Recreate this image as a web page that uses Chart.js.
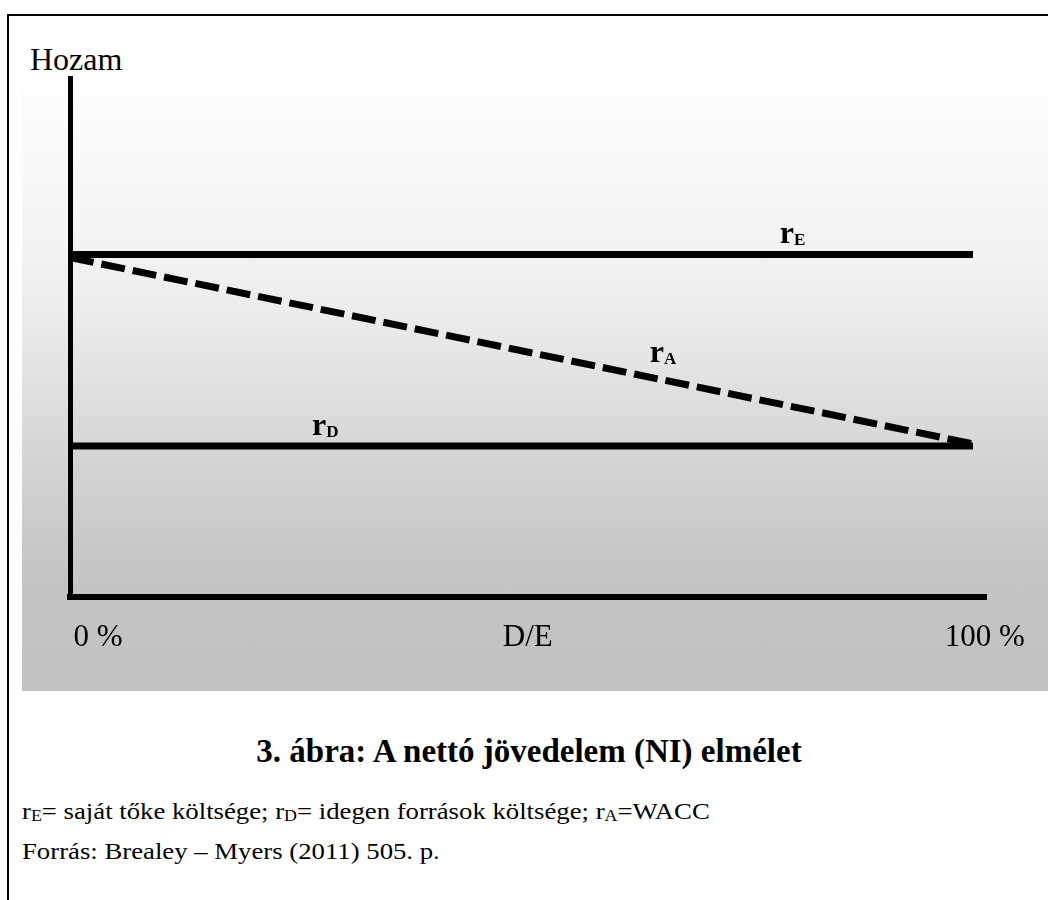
<!DOCTYPE html>
<html>
<head>
<meta charset="utf-8">
<script src="https://cdn.jsdelivr.net/npm/chart.js@4.4.1/dist/chart.umd.min.js"></script>
<style>
  html, body { margin: 0; padding: 0; background: #fff; width: 1048px; height: 900px; overflow: hidden; }
  body { position: relative; font-family: "Liberation Serif", "Times New Roman", serif; color: #000; }
  #frame { position: absolute; left: 7px; top: 14px; width: 1100px; height: 900px; border-left: 2px solid #000; border-top: 2px solid #000; }
  #bg { position: absolute; left: 22px; top: 20px; width: 1026px; height: 671px;
        background: linear-gradient(to bottom, #ffffff 0px, #ffffff 50px, #fdfdfd 70px, #f2f2f2 240px, #ebebeb 300px, #d6d6d6 430px, #c7c7c7 530px, #c3c3c3 590px, #c2c2c2 671px); }
  #chartWrap { position: absolute; left: 0; top: 0; width: 1048px; height: 700px; }
  .txt { position: absolute; white-space: nowrap; line-height: 1; }
  #hozam { left: 30px; top: 43px; font-size: 32px; }
  #title { left: 22px; width: 1014px; text-align: center; top: 735px; font-size: 33px; font-weight: bold; }
  .cap { left: 22px; font-size: 24px; transform: scaleX(1.114); transform-origin: 0 0; }
  #cap1 { top: 799px; }
  #cap2 { top: 839px; }
  .cap sub { font-size: 16px; vertical-align: -2px; line-height: 1; }
</style>
</head>
<body>
<div id="frame"></div>
<div id="bg"></div>
<div class="txt" id="hozam">Hozam</div>
<div id="chartWrap"><canvas id="c" width="1048" height="700"></canvas></div>
<div class="txt" id="title">3. ábra: A nettó jövedelem (NI) elmélet</div>
<div class="txt cap" id="cap1">r<sub>E</sub>= saját tőke költsége; r<sub>D</sub>= idegen források költsége; r<sub>A</sub>=WACC</div>
<div class="txt cap" id="cap2">Forrás: Brealey – Myers (2011) 505. p.</div>
<script>
// ---- data ----
const debtRatio = [0, 100];            // D/E (%)
const rE = [66.0, 66.0];               // cost of equity
const rA = [65.4, 29.5];               // WACC
const rD = [29.1, 29.1];               // cost of debt
const xTickValues = [3.1, 50.7, 101.3];
const xTickLabels = ['0 %', 'D/E', '100 %'];
const seriesLabelSub = ['E', 'A', 'D'];
const seriesLabelX = [78.6, 64.2, 26.8];
const seriesLabelY = [68.2, 45.3, 31.2];

const toPts = (ys) => debtRatio.map((x, i) => ({x: x, y: ys[i]}));

const seriesLabels = {
  id: 'seriesLabels',
  afterDatasetsDraw(chart) {
    const ctx = chart.ctx;
    const xs = chart.scales.x, ys = chart.scales.y;
    ctx.save();
    ctx.fillStyle = '#000';
    ctx.textBaseline = 'alphabetic';
    ctx.textAlign = 'left';
    for (let i = 0; i < seriesLabelSub.length; i++) {
      const px = xs.getPixelForValue(seriesLabelX[i]);
      const py = ys.getPixelForValue(seriesLabelY[i]);
      ctx.font = 'bold 32px "Liberation Serif", serif';
      ctx.fillText('r', px, py);
      const w = ctx.measureText('r').width;
      ctx.font = 'bold 17px "Liberation Serif", serif';
      ctx.fillText(seriesLabelSub[i], px + w, py + 2);
    }
    ctx.restore();
  }
};

new Chart(document.getElementById('c'), {
  type: 'line',
  data: {
    datasets: [
      { label: 'rE', data: toPts(rE), borderColor: '#000', borderWidth: 7, pointRadius: 0, borderCapStyle: 'butt', clip: false },
      { label: 'rA', data: toPts(rA), borderColor: '#000', borderWidth: 7, borderDash: [24, 8], pointRadius: 0, borderCapStyle: 'butt', clip: false },
      { label: 'rD', data: toPts(rD), borderColor: '#000', borderWidth: 7, pointRadius: 0, borderCapStyle: 'butt', clip: false }
    ]
  },
  options: {
    responsive: false,
    animation: false,
    devicePixelRatio: 1,
    layout: { padding: { left: 70, right: 62, top: 78, bottom: 0 } },
    plugins: { legend: { display: false }, tooltip: { enabled: false }, title: { display: false } },
    scales: {
      x: {
        type: 'linear', min: 0, max: 101.44,
        grid: { display: false, drawTicks: false },
        border: { display: true, color: '#000', width: 6 },
        afterFit(scale) { scale.height = 103; },
        afterBuildTicks(scale) { scale.ticks = xTickValues.map(v => ({ value: v })); },
        ticks: {
          autoSkip: false, maxRotation: 0, padding: 22, color: '#000',
          font: { family: '"Liberation Serif", serif', size: 31 },
          callback: (v, i) => xTickLabels[i]
        }
      },
      y: {
        type: 'linear', min: 0, max: 100,
        grid: { display: false, drawTicks: false },
        border: { display: true, color: '#000', width: 5 },
        ticks: { display: false },
        afterFit(scale) { scale.width = 0; }
      }
    }
  },
  plugins: [seriesLabels]
});
</script>
</body>
</html>
